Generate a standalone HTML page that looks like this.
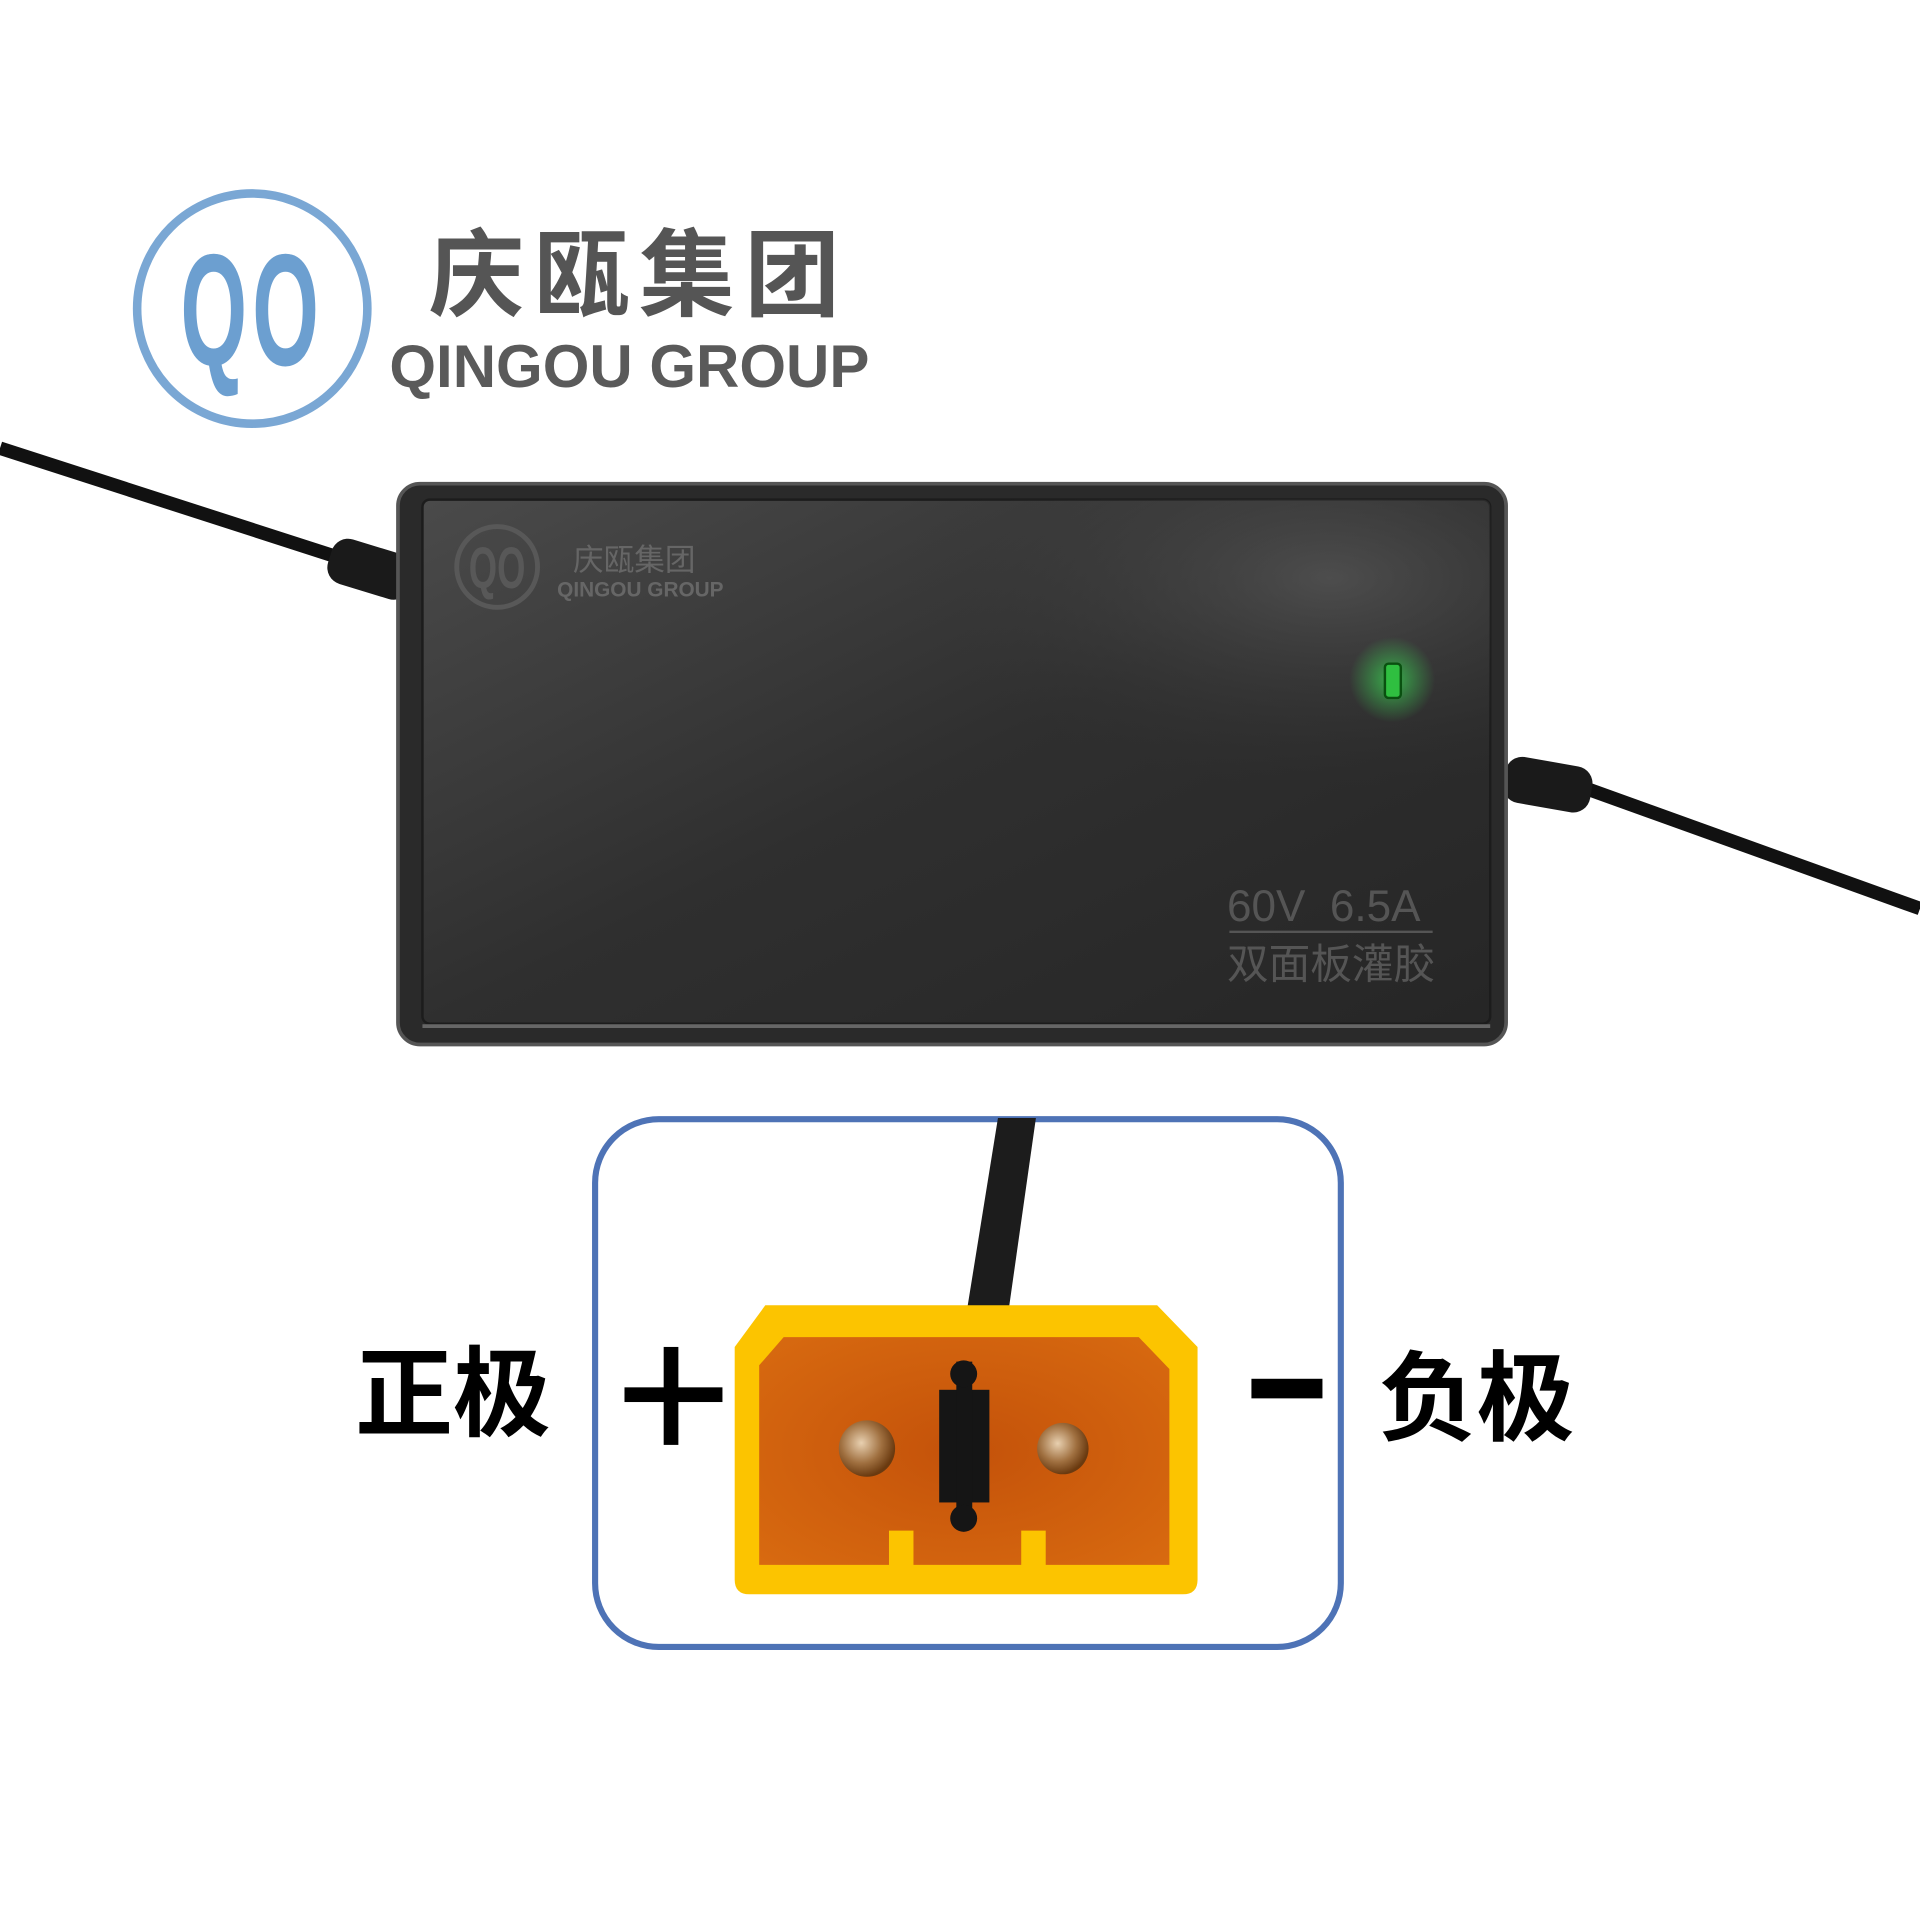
<!DOCTYPE html>
<html><head><meta charset="utf-8">
<style>
html,body{margin:0;padding:0;background:#fff;}
svg{display:block;}
text{font-family:"Liberation Sans","Noto Sans CJK SC",sans-serif;}
</style></head>
<body>
<svg width="1920" height="1920" viewBox="0 0 1568 1568" xmlns="http://www.w3.org/2000/svg">
<defs>
<linearGradient id="panel" x1="0" y1="0" x2="1" y2="1">
<stop offset="0" stop-color="#4a4a4a"/>
<stop offset="0.5" stop-color="#2f2f2f"/>
<stop offset="1" stop-color="#262626"/>
</linearGradient>
<radialGradient id="shine" cx="0.85" cy="0.15" r="0.4">
<stop offset="0" stop-color="#5a5a5a" stop-opacity="0.7"/>
<stop offset="1" stop-color="#333" stop-opacity="0"/>
</radialGradient>
<radialGradient id="glow" cx="0.5" cy="0.5" r="0.5">
<stop offset="0" stop-color="#3cff5a" stop-opacity="0.6"/>
<stop offset="1" stop-color="#3cff5a" stop-opacity="0"/>
</radialGradient>
<radialGradient id="orange" cx="0.5" cy="0.5" r="0.7">
<stop offset="0" stop-color="#c4520a"/>
<stop offset="1" stop-color="#d86a10"/>
</radialGradient>
<radialGradient id="pin" cx="0.4" cy="0.4" r="0.6">
<stop offset="0" stop-color="#e8d0b0"/>
<stop offset="0.6" stop-color="#a07040"/>
<stop offset="1" stop-color="#6a3a10"/>
</radialGradient>
</defs>

<!-- Logo -->
<circle cx="206" cy="252" r="94" fill="none" stroke="#7aa7d4" stroke-width="7"/>
<text x="206" y="298" text-anchor="middle" font-size="100" font-weight="bold" fill="#6c9fd0" transform="translate(0 298) scale(1 1.3) translate(0 -298) translate(206 0) scale(0.7 1) translate(-206 0)" letter-spacing="6">QO</text>
<text x="350" y="252" font-size="78" font-weight="bold" fill="#555" letter-spacing="8">庆瓯集团</text>
<text x="318" y="316" font-size="49" font-weight="bold" fill="#5a5a5a">QINGOU GROUP</text>

<!-- cables -->
<path d="M0 366 L285 458" stroke="#111" stroke-width="11" fill="none"/>
<rect x="268" y="445" width="70" height="38" rx="14" fill="#1a1a1a" transform="rotate(17 300 464)"/>
<path d="M1290 642 L1568 742" stroke="#111" stroke-width="11" fill="none"/>
<rect x="1228" y="622" width="72" height="38" rx="14" fill="#1a1a1a" transform="rotate(10 1265 641)"/>

<!-- charger body -->
<rect x="325" y="395" width="905" height="458" rx="18" fill="#2a2a2a" stroke="#555" stroke-width="3"/>
<rect x="345" y="408" width="872" height="428" rx="6" fill="url(#panel)" stroke="#1c1c1c" stroke-width="2"/>
<rect x="345" y="408" width="872" height="428" rx="6" fill="url(#shine)"/>
<line x1="345" y1="838" x2="1217" y2="838" stroke="#666" stroke-width="3"/>

<circle cx="406" cy="463" r="33" fill="none" stroke="#585858" stroke-width="4"/>
<text x="406" y="480" text-anchor="middle" font-size="48" font-weight="bold" fill="#585858" transform="translate(406 0) scale(0.62 1) translate(-406 0)">QO</text>
<text x="468" y="466" font-size="25" fill="#666">庆瓯集团</text>
<text x="455" y="487" font-size="17" font-weight="bold" fill="#666">QINGOU GROUP</text>

<circle cx="1137" cy="555" r="35" fill="url(#glow)"/>
<rect x="1131" y="542" width="13" height="28" rx="3" fill="#2fbf40" stroke="#0a5010" stroke-width="2"/>

<text x="1002" y="752" font-size="36" fill="#555">60V&#160;&#160;6.5A</text>
<line x1="1004" y1="761" x2="1170" y2="761" stroke="#555" stroke-width="2"/>
<text x="1002" y="799" font-size="34" fill="#555">双面板灌胶</text>

<!-- connector box -->
<rect x="486" y="914" width="609" height="431" rx="52" fill="none" stroke="#4e73b6" stroke-width="5"/>
<path d="M815 913 L846 913 L824 1068 L790 1068 Z" fill="#1c1c1c"/>

<path d="M625 1066 L945 1066 L978 1100 L978 1290 Q978 1302 966 1302 L612 1302 Q600 1302 600 1290 L600 1100 Z" fill="#fcc400"/>
<path d="M640 1092 L930 1092 L955 1118 L955 1278 L620 1278 L620 1115 Z" fill="url(#orange)"/>
<rect x="726" y="1250" width="20" height="30" fill="#fcc400"/>
<rect x="834" y="1250" width="20" height="30" fill="#fcc400"/>
<circle cx="708" cy="1183" r="23" fill="url(#pin)"/>
<circle cx="868" cy="1183" r="21" fill="url(#pin)"/>
<rect x="767" y="1135" width="41" height="92" fill="#151515"/>
<rect x="781" y="1112" width="13" height="135" fill="#151515"/>
<circle cx="787" cy="1122" r="11" fill="#151515"/>
<circle cx="787" cy="1240" r="11" fill="#151515"/>

<!-- signs -->
<rect x="510" y="1133" width="80" height="12" fill="#000"/>
<rect x="542" y="1100" width="12" height="80" fill="#000"/>
<rect x="1022" y="1126" width="58" height="16" fill="#000"/>

<text x="290" y="1166" font-size="80" font-weight="bold" fill="#000">正极</text>
<text x="1126" y="1170" font-size="80" font-weight="bold" fill="#000">负极</text>
</svg>
</body></html>
